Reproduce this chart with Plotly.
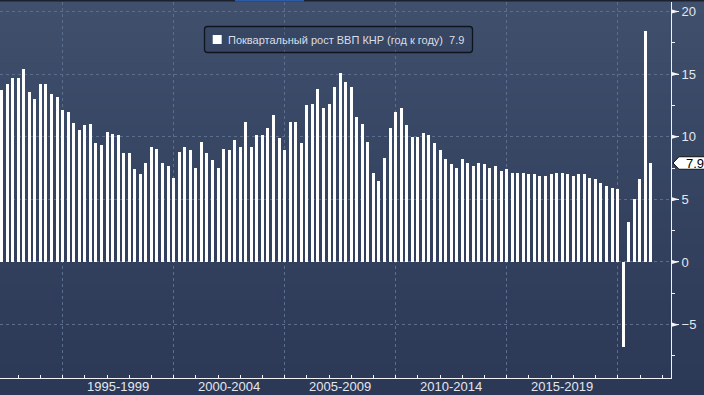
import plotly.graph_objects as go

# ---------------- data ----------------
start_year = 1992
quarter_ends = ["03-31", "06-30", "09-30", "12-31"]
gdp_yoy = [
    13.7, 14.2, 14.7, 14.7,   # 1992
    15.4, 13.6, 13.0, 14.2,   # 1993
    14.2, 13.4, 13.2, 12.1,   # 1994
    12.0, 11.1, 10.5, 10.9,   # 1995
    11.0, 9.5, 9.3, 10.4,     # 1996
    10.2, 10.1, 8.7, 8.7,     # 1997
    7.4, 7.0, 7.9, 9.2,       # 1998
    9.0, 7.9, 7.7, 6.7,       # 1999
    8.8, 9.2, 8.9, 7.5,       # 2000
    9.6, 8.7, 8.1, 7.5,       # 2001
    9.0, 8.9, 9.7, 9.2,       # 2002
    11.2, 9.2, 10.1, 10.1,    # 2003
    10.7, 11.7, 9.9, 8.9,     # 2004
    11.2, 11.2, 9.5, 12.5,    # 2005
    12.6, 13.8, 12.3, 12.6,   # 2006
    14.0, 15.1, 14.4, 14.0,   # 2007
    11.6, 11.0, 9.6, 7.1,     # 2008
    6.5, 8.3, 10.7, 12.0,     # 2009
    12.3, 10.9, 10.0, 10.0,   # 2010
    10.3, 10.1, 9.5, 8.9,     # 2011
    8.2, 7.8, 7.5, 8.2,       # 2012
    7.9, 7.7, 7.9, 7.8,       # 2013
    7.5, 7.7, 7.3, 7.4,       # 2014
    7.1, 7.1, 7.1, 7.0,       # 2015
    7.0, 6.9, 6.9, 7.0,       # 2016
    7.1, 7.1, 7.0, 6.9,       # 2017
    7.0, 7.0, 6.7, 6.6,       # 2018
    6.3, 6.1, 5.9, 5.85,      # 2019
    -6.8, 3.2, 5.0, 6.6,      # 2020
    18.4, 7.9,                # 2021
]
quarters = [f"{start_year + i // 4}-{quarter_ends[i % 4]}" for i in range(len(gdp_yoy))]

period_labels = ["1995-1999", "2000-2004", "2005-2009", "2010-2014", "2015-2019"]
period_mids = ["1997-07-02", "2002-07-02", "2007-07-02", "2012-07-02", "2017-07-02"]
period_bounds = ["1995-01-01", "2000-01-01", "2005-01-01", "2010-01-01", "2015-01-01", "2020-01-01"]
y_ticks = [-5, 0, 5, 10, 15, 20]
series_name = "Поквартальный рост ВВП КНР (год к году)"
last_value = gdp_yoy[-1]

# ---------------- figure ----------------
W, H = 704, 395
ML, MR, MT, MB = 0, 33, 2, 17
PW = W - ML - MR
PH = H - MT - MB

def px_x(px):
    return (px - ML) / PW

def px_y(py):
    return (H - MB - py) / PH

FONT = "Liberation Sans, Arial, sans-serif"

fig = go.Figure()
fig.add_trace(go.Bar(
    x=quarters, y=gdp_yoy,
    width=[49 * 86400000] * len(gdp_yoy),
    marker=dict(color="#ffffff", line=dict(width=0)),
    showlegend=False, hoverinfo="x+y",
))

shapes = []
# background gradient
top_c = (63, 79, 108)
bot_c = (43, 56, 86)
N = 50
for i in range(N):
    t = i / (N - 1)
    c = tuple(int(round(top_c[k] + (bot_c[k] - top_c[k]) * t)) for k in range(3))
    py0 = i * H / N
    py1 = (i + 1) * H / N + 0.6
    shapes.append(dict(type="rect", xref="paper", yref="paper", layer="below",
                       x0=-0.02, x1=1.1, y0=px_y(py1), y1=px_y(py0),
                       fillcolor=f"rgb{c}", line=dict(width=0)))
# top dark strip and blue tab
shapes.append(dict(type="rect", xref="paper", yref="paper", layer="above",
                   x0=-0.02, x1=1.1, y0=px_y(1.4), y1=px_y(-1),
                   fillcolor="#1b222d", line=dict(width=0)))
shapes.append(dict(type="rect", xref="paper", yref="paper", layer="above",
                   x0=px_x(235), x1=px_x(304), y0=px_y(1.4), y1=px_y(-1),
                   fillcolor="#2c5ba8", line=dict(width=0)))
# right-axis triangle tick markers
for v in y_ticks:
    shapes.append(dict(type="path", xref="paper", yref="y", layer="above",
                       path=f"M 1,{v + 0.18} L {1 + 8 / PW},{v} L 1,{v - 0.18} Z",
                       fillcolor="#f2f4f7", line=dict(width=0)))
# last value label box (arrow shaped)
hx = 0.5
xa, xb, xc = 1 + 2 / PW, 1 + 8 / PW, 1 + 40 / PW
shapes.append(dict(type="path", xref="paper", yref="y", layer="above",
                   path=(f"M {xa},{last_value} L {xb},{last_value + hx} L {xc},{last_value + hx} "
                         f"L {xc},{last_value - hx} L {xb},{last_value - hx} Z"),
                   fillcolor="#ffffff", line=dict(color="#111111", width=1)))
# legend box with rounded corners
lx0, lx1, ly0, ly1, r = 204.5, 472.5, 26.5, 52.5, 3
def P(x, y):
    return f"{px_x(x)},{px_y(y)}"
legend_path = (f"M {P(lx0 + r, ly0)} L {P(lx1 - r, ly0)} Q {P(lx1, ly0)} {P(lx1, ly0 + r)} "
               f"L {P(lx1, ly1 - r)} Q {P(lx1, ly1)} {P(lx1 - r, ly1)} "
               f"L {P(lx0 + r, ly1)} Q {P(lx0, ly1)} {P(lx0, ly1 - r)} "
               f"L {P(lx0, ly0 + r)} Q {P(lx0, ly0)} {P(lx0 + r, ly0)} Z")
shapes.append(dict(type="path", xref="paper", yref="paper", layer="above",
                   path=legend_path, fillcolor="rgba(20,28,45,0.12)",
                   line=dict(color="#0f151f", width=1.3)))
shapes.append(dict(type="rect", xref="paper", yref="paper", layer="above",
                   x0=px_x(212.7), x1=px_x(221.7), y0=px_y(44), y1=px_y(35),
                   fillcolor="#ffffff", line=dict(width=0)))

annotations = []
for lab, mid in zip(period_labels, period_mids):
    annotations.append(dict(x=mid, xref="x", y=0, yref="paper", yanchor="top",
                            xanchor="center", yshift=1, text=lab, showarrow=False,
                            font=dict(family=FONT, size=13, color="#e4e7ee")))
annotations.append(dict(x=px_x(225.5), xref="paper", y=px_y(39.5), yref="paper",
                        xanchor="left", yanchor="middle", showarrow=False,
                        text=series_name + "\u00a0\u00a0" + f"{last_value:.1f}",
                        font=dict(family=FONT, size=11, color="#dadee6")))
annotations.append(dict(x=1 + 24 / PW, xref="paper", y=last_value, yref="y",
                        xanchor="center", yanchor="middle", showarrow=False,
                        text=f"{last_value:.1f}",
                        font=dict(family=FONT, size=13, color="#000000")))

grid_col = "#5c6e8d"
fig.update_layout(
    template="none",
    width=W, height=H,
    margin=dict(l=ML, r=MR, t=MT, b=MB, pad=0, autoexpand=False),
    paper_bgcolor="rgb(50,64,94)",
    plot_bgcolor="rgba(0,0,0,0)",
    shapes=shapes,
    annotations=annotations,
    bargap=0,
    showlegend=False,
    xaxis=dict(
        type="date",
        automargin=False,
        range=["1992-03-06", "2022-05-26"],
        tickvals=period_bounds,
        ticktext=[""] * len(period_bounds),
        showticklabels=False,
        ticks="outside", ticklen=18, tickwidth=1, tickcolor="#a3aab8",
        showgrid=True, gridcolor=grid_col, griddash="3px,3px", gridwidth=1,
        showline=True, linecolor="#f0f2f5", linewidth=1,
        zeroline=False,
        minor=dict(ticks="inside", ticklen=3, tickwidth=1, tickcolor="#f0f2f5",
                   dtick="M12", tick0="1995-01-01", showgrid=False),
        fixedrange=True,
    ),
    yaxis=dict(
        side="right",
        automargin=False,
        range=[-9.26, 20.75],
        tickvals=y_ticks,
        ticks="outside", ticklen=7, tickwidth=1, tickcolor="#f0f2f5",
        tickfont=dict(family=FONT, size=13, color="#e4e7ee"),
        showgrid=True, gridcolor=grid_col, griddash="3px,3px", gridwidth=1,
        showline=True, linecolor="#f0f2f5", linewidth=1,
        zeroline=False,
        minor=dict(ticks="outside", ticklen=3, tickwidth=1, tickcolor="#f0f2f5",
                   dtick=2.5, tick0=0, showgrid=False),
        fixedrange=True,
    ),
)

fig.write_html(
    "out.html",
    config={"displayModeBar": False},
    post_script="document.body.style.margin='0px';document.body.style.background='rgb(50,64,94)';document.body.style.overflow='hidden';",
)
